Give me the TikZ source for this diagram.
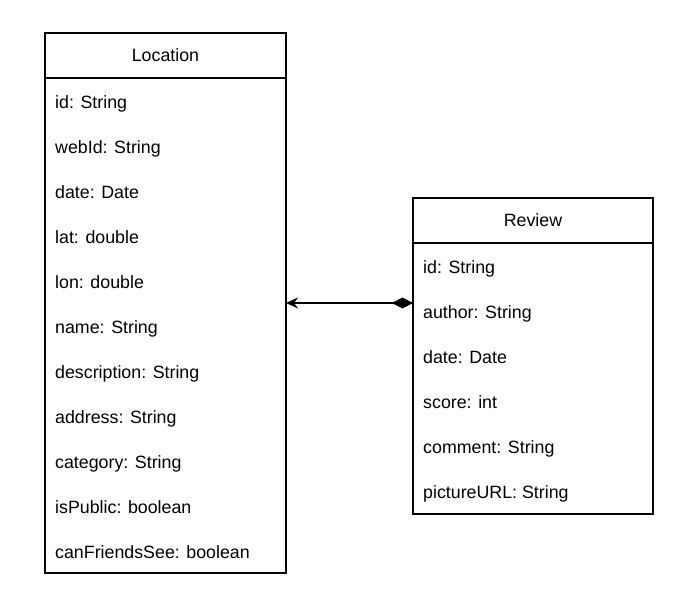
\documentclass[tikz,border=0pt]{standalone}
\usepackage{fontspec}
\setmainfont{Liberation Sans}
\usetikzlibrary{positioning,arrows.meta}
\tikzset{
  classhead/.style={draw, line width=1.4pt, outer sep=0pt, inner sep=0pt,
    minimum height=45pt, font=\fontsize{17.8}{21}\selectfont
  },
  classbody/.style={draw, line width=1.4pt, outer sep=0pt, inner sep=0pt
  },
  attr/.style={anchor=base west, inner sep=0pt, font=\fontsize{17.8}{21}\selectfont
  }
}

\begin{document}
\begin{tikzpicture}[x=1pt, y=-1pt]
 \useasboundingbox (0, 0) rectangle (691, 605);

 \node[classhead, minimum width=241pt] (lochead) at (165.5, 55.5) {Location};
 \node[classbody, minimum width=241pt, minimum height=495pt, below=0pt of lochead] (locbody) {};
 \node[classhead, minimum width=240pt] (revhead) at (533, 220.5) {Review};
 \node[classbody, minimum width=240pt, minimum height=271pt, below=0pt of revhead] (revbody) {};

 \foreach \txt [count=\i] in {id: String, webId: String, date: Date, lat: double,
   lon: double, name: String, description: String, address: String,
   category: String, isPublic: boolean, canFriendsSee: boolean} {
   \node[attr] (loc\i) at (55, 63 + 45*\i) {\txt};
  }
 \foreach \txt [count=\i] in {id: String, author: String, date: Date, score: int,
   comment: String, pictureURL: String} {
   \node[attr] (rev\i) at (423, 228 + 45*\i) {\txt};
  }

 \coordinate (assoc) at ([yshift=-60pt]revbody.north west);
 \draw[{Diamond[length=21pt, width=11pt]}-{Stealth[length=12pt, width=11pt, inset=4pt]}, line width=1.4pt]
   (assoc) -- (assoc -| locbody.east);

\end{tikzpicture}
\end{document}
